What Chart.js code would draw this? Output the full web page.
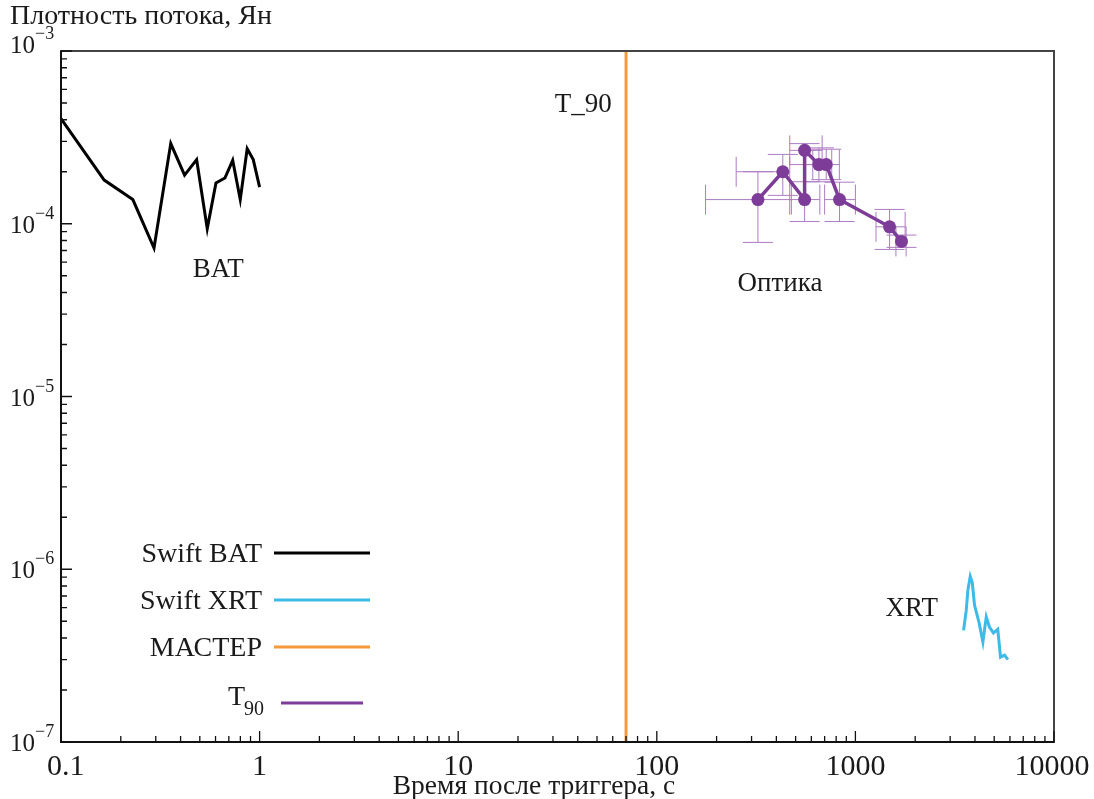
<!DOCTYPE html>
<html>
<head>
<meta charset="utf-8">
<script src="https://cdn.jsdelivr.net/npm/chart.js@4.4.1/dist/chart.umd.min.js"></script>
<style>
  html, body { margin: 0; padding: 0; background: #ffffff; }
  #wrap { position: relative; width: 1094px; height: 799px; }
  canvas { display: block; }
</style>
</head>
<body>
<div id="wrap"><canvas id="c" width="1094" height="799"></canvas></div>
<script>
// ---------- data ----------
const batTime = [0.1, 0.165, 0.23, 0.294, 0.357, 0.419, 0.482, 0.545, 0.603, 0.669, 0.732, 0.799, 0.866, 0.929, 1.0];
const batFlux = [4.06e-4, 1.79e-4, 1.38e-4, 7.24e-5, 2.91e-4, 1.91e-4, 2.35e-4, 9.37e-5, 1.72e-4, 1.84e-4, 2.33e-4, 1.38e-4, 2.72e-4, 2.35e-4, 1.63e-4];

const xrtTime = [3505, 3615, 3683, 3787, 3875, 3981, 4188, 4385, 4560, 4730, 4955, 5210, 5380, 5636, 5860];
const xrtFlux = [4.43e-7, 5.78e-7, 7.55e-7, 9.1e-7, 8.4e-7, 6.18e-7, 4.95e-7, 3.79e-7, 5.3e-7, 4.63e-7, 4.28e-7, 4.49e-7, 3.1e-7, 3.18e-7, 3.0e-7];

const masterTime = [70, 70];
const masterFlux = [1e-7, 1e-3];

const optTime   = [323, 431, 555, 555, 655, 713, 832, 1486, 1706];
const optFlux   = [1.38e-4, 2.0e-4, 1.38e-4, 2.66e-4, 2.2e-4, 2.2e-4, 1.38e-4, 9.6e-5, 7.9e-5];
const optTimeLo = [176, 251, 467, 467, 560, 610, 700, 1270, 1600];
const optTimeHi = [476, 467, 662, 680, 760, 830, 1000, 1780, 1800];
const optFluxLo = [7.8e-5, 1.46e-4, 1.03e-4, 2.2e-4, 1.75e-4, 1.8e-4, 1.03e-4, 7.1e-5, 7.3e-5];
const optFluxHi = [2.0e-4, 2.52e-4, 1.75e-4, 2.91e-4, 2.75e-4, 2.7e-4, 1.74e-4, 1.21e-4, 8.6e-5];

const xTickValues = [0.1, 1, 10, 100, 1000, 10000];
const xTickLabels = ['0.1', '1', '10', '100', '1000', '10000'];
const yTickExps = [-7, -6, -5, -4, -3];

const legendLabels = ['Swift BAT', 'Swift XRT', 'МАСТЕР', 'T'];
const legendColors = ['#000000', '#3dbbe6', '#f59a3c', '#7d3c98'];

const annotations = [
  { text: 'T_90', x: 30.6, y: 4.42e-4 },
  { text: 'BAT', x: 0.461, y: 4.9e-5 },
  { text: 'Оптика', x: 255, y: 4.1e-5 },
  { text: 'XRT', x: 1419, y: 5.33e-7 }
];

const FONT = '"Liberation Serif", "Times New Roman", serif';

function pts(xs, ys) { return xs.map((x, i) => ({ x: x, y: ys[i] })); }

// ---------- plugins ----------
const errorBars = {
  id: 'errorBars',
  beforeDatasetsDraw(chart) {
    const ctx = chart.ctx, xs = chart.scales.x, ys = chart.scales.y;
    ctx.save();
    ctx.strokeStyle = '#ad7cc2';
    ctx.lineWidth = 1;
    const cap = 15;
    for (let i = 0; i < optTime.length; i++) {
      const px = xs.getPixelForValue(optTime[i]);
      const py = ys.getPixelForValue(optFlux[i]);
      const x0 = xs.getPixelForValue(optTimeLo[i]);
      const x1 = xs.getPixelForValue(optTimeHi[i]);
      const y0 = ys.getPixelForValue(optFluxLo[i]);
      const y1 = ys.getPixelForValue(optFluxHi[i]);
      ctx.beginPath();
      ctx.moveTo(x0, py); ctx.lineTo(x1, py);
      ctx.moveTo(x0, py - cap); ctx.lineTo(x0, py + cap);
      ctx.moveTo(x1, py - cap); ctx.lineTo(x1, py + cap);
      ctx.moveTo(px, y0); ctx.lineTo(px, y1);
      ctx.moveTo(px - cap, y0); ctx.lineTo(px + cap, y0);
      ctx.moveTo(px - cap, y1); ctx.lineTo(px + cap, y1);
      ctx.stroke();
    }
    ctx.restore();
  }
};

const frame = {
  id: 'frame',
  afterDraw(chart) {
    const ctx = chart.ctx, xs = chart.scales.x, ys = chart.scales.y;
    const a = chart.chartArea;
    ctx.save();
    // box
    ctx.strokeStyle = '#444';
    ctx.lineWidth = 2;
    ctx.strokeRect(a.left, a.top, a.right - a.left, a.bottom - a.top);
    ctx.strokeStyle = '#111';
    ctx.beginPath();
    ctx.moveTo(a.left, a.top); ctx.lineTo(a.left, a.bottom); ctx.lineTo(a.right, a.bottom);
    ctx.stroke();
    // x ticks (inside, bottom)
    ctx.lineWidth = 1.3;
    ctx.beginPath();
    for (let e = -1; e <= 4; e++) {
      for (let m = 1; m <= 9; m++) {
        const v = m * Math.pow(10, e);
        if (v > 10000 * 1.0001) break;
        const p = xs.getPixelForValue(v);
        const len = (m === 1) ? 11 : 6;
        ctx.moveTo(p, a.bottom); ctx.lineTo(p, a.bottom - len);
      }
    }
    // y ticks (inside, left)
    for (let e = -7; e <= -3; e++) {
      for (let m = 1; m <= 9; m++) {
        const v = m * Math.pow(10, e);
        if (v > 1e-3 * 1.0001) break;
        const p = ys.getPixelForValue(v);
        const len = (m === 1) ? 11 : 6;
        ctx.moveTo(a.left, p); ctx.lineTo(a.left + len, p);
      }
    }
    ctx.stroke();

    ctx.fillStyle = '#1a1a1a';
    // x tick labels
    ctx.font = '30px ' + FONT;
    ctx.textBaseline = 'alphabetic';
    xTickValues.forEach((v, i) => {
      const p = xs.getPixelForValue(v);
      if (i === 0) { ctx.textAlign = 'left'; ctx.fillText(xTickLabels[i], 47, a.bottom + 33); }
      else if (i === xTickValues.length - 1) { ctx.textAlign = 'center'; ctx.fillText(xTickLabels[i], p - 2, a.bottom + 33); }
      else { ctx.textAlign = 'center'; ctx.fillText(xTickLabels[i], p, a.bottom + 33); }
    });
    // y tick labels 10^n
    yTickExps.forEach(e => {
      const p = ys.getPixelForValue(Math.pow(10, e));
      const base = (e === -3) ? p + 2 : p + 9;
      ctx.font = '25px ' + FONT;
      ctx.textAlign = 'right';
      ctx.fillText('10', 35, base);
      ctx.font = '18px ' + FONT;
      ctx.textAlign = 'left';
      ctx.fillText('\u2212' + Math.abs(e), 35, base - 14);
    });
    // axis titles
    ctx.font = '28px ' + FONT;
    ctx.textAlign = 'left';
    ctx.fillText('Плотность потока, Ян', 10, 24);
    ctx.textAlign = 'center';
    ctx.font = '27.5px ' + FONT;
    ctx.fillText('Время после триггера, с', 534, 794);

    // annotations
    ctx.font = '27px ' + FONT;
    ctx.textAlign = 'left';
    annotations.forEach(an => {
      const x = xs.getPixelForValue(an.x);
      const y = ys.getPixelForValue(an.y);
      ctx.fillText(an.text, x, y);
    });

    // legend
    const ly = [553, 600, 647, 703];
    legendLabels.forEach((lab, i) => {
      ctx.textAlign = 'right';
      ctx.font = '28px ' + FONT;
      if (i < 3) {
        ctx.fillText(lab, 262, ly[i] + 9);
      } else {
        ctx.fillText(lab, 245, ly[i] + 2);
        ctx.font = '20px ' + FONT;
        ctx.textAlign = 'left';
        ctx.fillText('90', 244, ly[i] + 12);
      }
      ctx.strokeStyle = legendColors[i];
      ctx.lineWidth = 3;
      ctx.beginPath();
      if (i < 3) { ctx.moveTo(274, ly[i]); ctx.lineTo(370, ly[i]); }
      else { ctx.moveTo(281, ly[i]); ctx.lineTo(363, ly[i]); }
      ctx.stroke();
    });
    ctx.restore();
  }
};

// ---------- chart ----------
new Chart(document.getElementById('c'), {
  type: 'scatter',
  data: {
    datasets: [
      { label: 'Swift BAT', data: pts(batTime, batFlux), showLine: true, borderColor: legendColors[0], borderWidth: 3, pointRadius: 0, tension: 0 },
      { label: 'Swift XRT', data: pts(xrtTime, xrtFlux), showLine: true, borderColor: legendColors[1], borderWidth: 3, pointRadius: 0, tension: 0 },
      { label: 'МАСТЕР', data: pts(masterTime, masterFlux), showLine: true, borderColor: legendColors[2], borderWidth: 3, pointRadius: 0, tension: 0 },
      { label: 'Оптика', data: pts(optTime, optFlux), showLine: true, borderColor: legendColors[3], backgroundColor: legendColors[3], borderWidth: 3.5, pointRadius: 6.5, pointBorderWidth: 0, tension: 0 }
    ]
  },
  options: {
    responsive: false,
    animation: false,
    devicePixelRatio: 1,
    layout: { padding: { left: 61, top: 51, right: 40, bottom: 57 } },
    plugins: { legend: { display: false }, tooltip: { enabled: false } },
    scales: {
      x: { type: 'logarithmic', min: 0.1, max: 10000, display: false },
      y: { type: 'logarithmic', min: 1e-7, max: 1e-3, display: false }
    }
  },
  plugins: [errorBars, frame]
});
</script>
</body>
</html>
